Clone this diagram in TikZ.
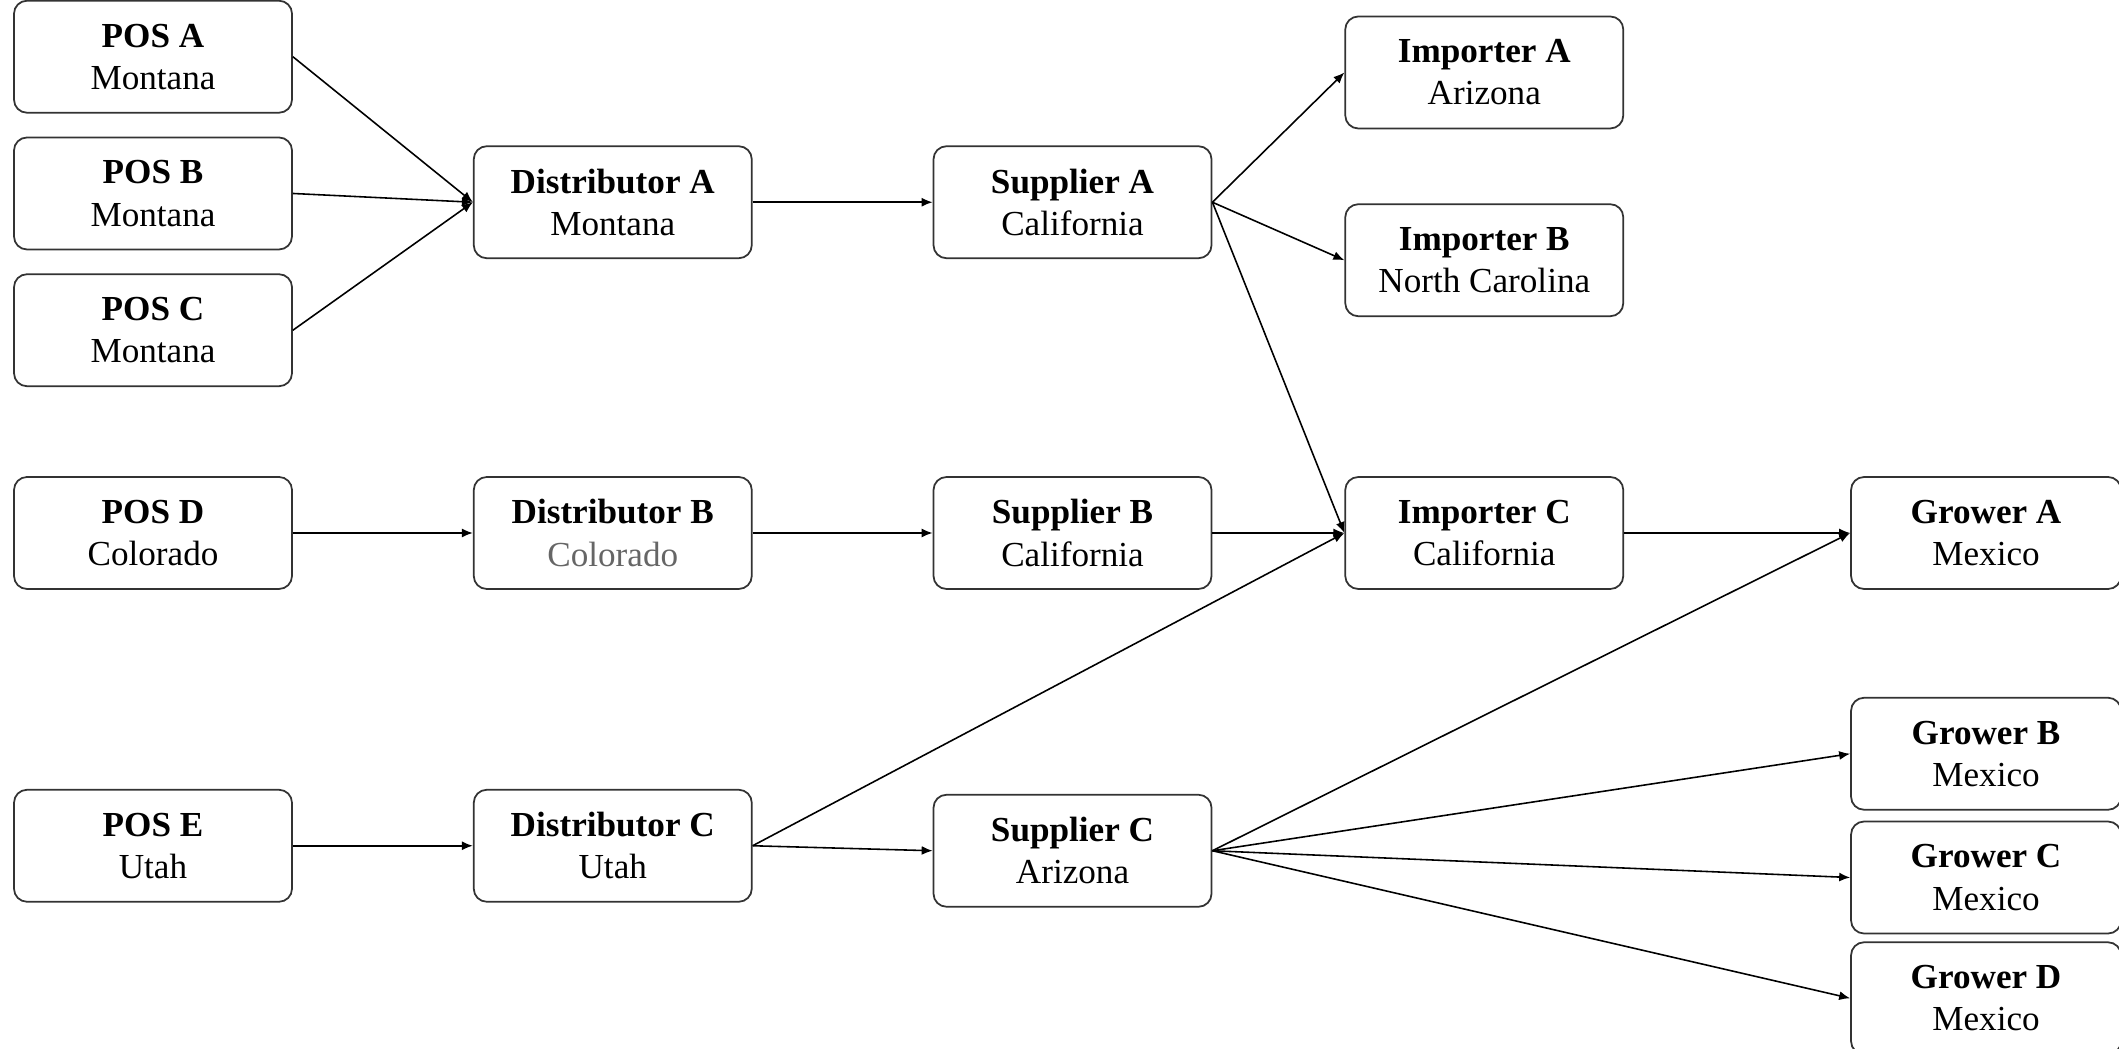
\documentclass[tikz,border=0pt]{standalone}
\usepackage{fontspec}
\setmainfont{Liberation Serif}
\usetikzlibrary{arrows.meta, positioning}

\begin{document}
\begin{tikzpicture}
  [
  block/.style = {rectangle, rounded corners = 1.3mm,
    draw = black!80, line width = 0.5pt, inner sep = 0pt,
    minimum height = 11.2mm, minimum width = 2.78cm,
    align = center, font = \fontsize{10}{12}\selectfont},
  % grower
  growbox/.style = {block, minimum width = 2.7cm},
  % line
  line/.style = {draw, line width = 0.45pt,
    -{Latex[length = 1.1mm, width = 0.9mm]}},
  node distance = 1.8cm,
  ]

  \useasboundingbox (0,0) rectangle (21.19,-10.49);

  % nodes
  \node [block] (posD) at (1.53,-5.33) {\textbf{POS D}\\Colorado};
  \node [block, above = 0.89cm of posD] (posC) {\textbf{POS C}\\Montana};
  \node [block, above = 0.23cm of posC] (posB) {\textbf{POS B}\\Montana};
  \node [block, above = 0.23cm of posB] (posA) {\textbf{POS A}\\Montana};
  \node [block, below = 1.99cm of posD] (posE) {\textbf{POS E}\\Utah};

  \node [block, right = of posD] (distB) {\textbf{Distributor B}\\\textcolor{black!60}{Colorado}};
  \node [block, above = 2.17cm of distB] (distA) {\textbf{Distributor A}\\Montana};
  \node [block, right = of posE] (distC) {\textbf{Distributor C}\\Utah};

  \node [block, right = of distB] (supB) {\textbf{Supplier B}\\California};
  \node [block, right = of distA] (supA) {\textbf{Supplier A}\\California};
  \node [block, below = 2.04cm of supB] (supC) {\textbf{Supplier C}\\Arizona};

  \node [block, right = 1.32cm of supB] (impC) {\textbf{Importer C}\\California};
  \node [block, above = 1.59cm of impC] (impB) {\textbf{Importer B}\\North Carolina};
  \node [block, above = 0.74cm of impB] (impA) {\textbf{Importer A}\\Arizona};

  \node [growbox, right = 2.26cm of impC] (growA) {\textbf{Grower A}\\Mexico};
  \node [growbox, below = 1.07cm of growA] (growB) {\textbf{Grower B}\\Mexico};
  \node [growbox, below = 0.10cm of growB] (growC) {\textbf{Grower C}\\Mexico};
  \node [growbox, below = 0.07cm of growC] (growD) {\textbf{Grower D}\\Mexico};

  % path
  \path [line] (posA.east) -- (distA.west);
  \path [line] (posB.east) -- (distA.west);
  \path [line] (posC.east) -- (distA.west);
  \path [line] (posD) -- (distB);
  \path [line] (posE) -- (distC);
  \path [line] (distA) -- (supA);
  \path [line] (distB) -- (supB);
  \path [line] (distC.east) -- (supC.west);
  \path [line] (distC.east) -- (impC.west);
  \path [line] (supA.east) -- (impA.west);
  \path [line] (supA.east) -- (impB.west);
  \path [line] (supA.east) -- (impC.west);
  \path [line] (supB) -- (impC);
  \path [line] (impC) -- (growA);
  \path [line] (supC.east) -- (growA.west);
  \path [line] (supC.east) -- (growB.west);
  \path [line] (supC.east) -- (growC.west);
  \path [line] (supC.east) -- (growD.west);

\end{tikzpicture}
\end{document}
